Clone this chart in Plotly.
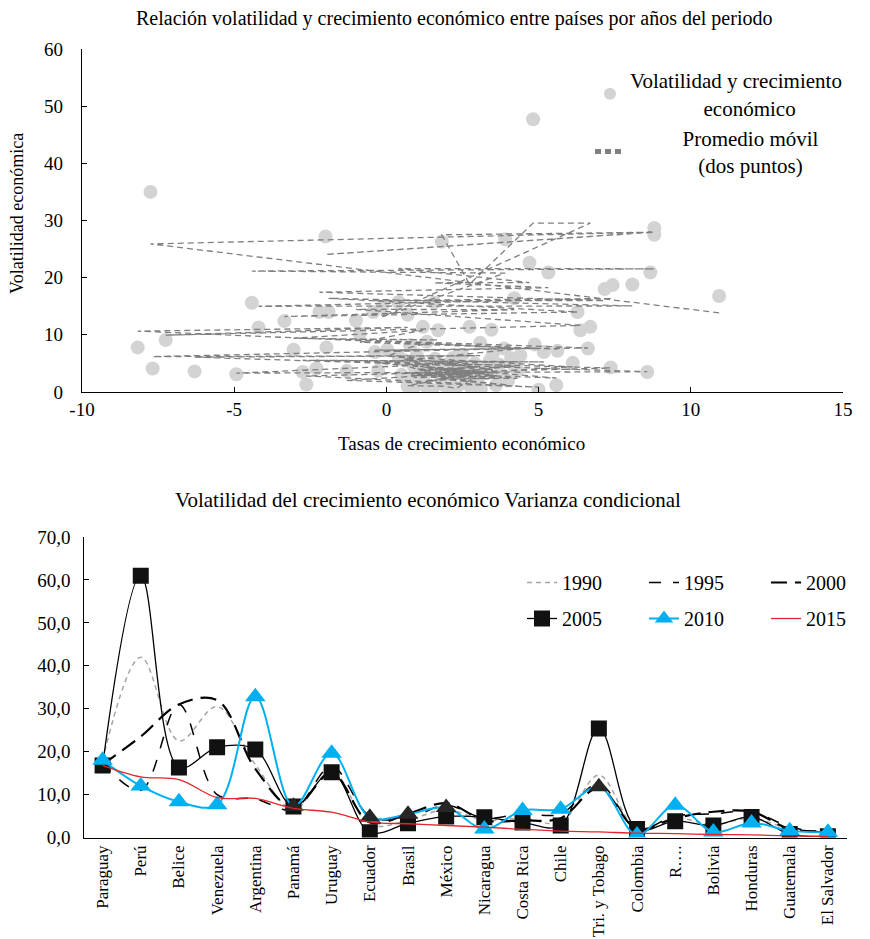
import plotly.graph_objects as go

# ---------------- data: scatter (growth rate, volatility) ----------------
growth = [3.45, 10.93, -7.75, 8.67, -2.0, 8.8, 1.82, 2.73, 4.82, 6.7,
          -0.13, 3.9, -4.42, 8.8, 0.4, 4.7, 1.57, 5.32, -2.2, 7.17,
          -0.43, 7.43, -4.2, 8.08, -1.9, 6.28, -3.35, 4.2, -1.0, 6.37,
          -7.25, 0.7, -8.17, 5.62, -0.87, 1.2, -3.05, 1.7, -1.97, 6.62,
          -0.38, 4.87, -7.68, 3.08, -6.3, 8.57, -4.93, 3.87, -2.75, 5.17,
          -2.3, 7.37, -2.63, 5.0, -1.3, 6.12, 0.03, 0.78, 1.33, 4.4,
          -0.27, 5.58, 0.6, 3.6, 0.9, 4.2, 1.1, 3.2, 0.8, 3.8,
          1.3, 2.9, 1.5, 4.0, 1.8, 3.4, 2.0, 2.8, 2.2, 0.4,
          2.4, 4.1, 2.6, 1.0, 3.0, 1.6, 3.1, 2.3, 1.9, 0.7,
          3.5, 1.4, 2.5, 0.5, 2.1, 3.3, 1.2, 2.7, 0.9, 3.7,
          1.7, 2.0, 4.3, 1.1, 2.6]
volatility = [10.9, 16.8, 35.0, 20.9, 27.2, 28.7, 26.3, 11.4, 47.7, 11.4,
              14.9, 26.7, 15.6, 27.5, 15.7, 22.6, 15.6, 20.9, 14.0, 18.0,
              14.0, 18.7, 11.3, 18.8, 14.0, 14.0, 12.4, 16.4, 12.5, 10.8,
              9.1, 13.5, 7.8, 7.2, 10.2, 11.4, 7.4, 10.8, 7.8, 7.6,
              7.0, 8.3, 4.1, 8.6, 3.6, 3.5, 3.1, 7.6, 3.5, 7.0,
              4.1, 4.3, 1.3, 0.4, 3.7, 5.1, 7.4, 8.2, 8.8, 6.4,
              3.7, 1.2, 5.5, 1.2, 4.5, 4.5, 3.0, 4.0, 2.0, 3.0,
              1.0, 5.0, 0.4, 2.0, 2.5, 5.5, 4.8, 0.6, 6.0, 6.2,
              3.5, 5.9, 1.5, 6.5, 2.2, 5.8, 0.5, 0.8, 1.2, 1.0,
              6.8, 4.0, 6.5, 3.0, 2.0, 3.3, 2.4, 4.2, 0.8, 4.8,
              3.6, 1.0, 3.8, 5.2, 2.8]

top_xticks = [-10, -5, 0, 5, 10, 15]
top_xlabels = ["-10", "-5", "0", "5", "10", "15"]
top_yticks = [0, 10, 20, 30, 40, 50, 60]

# two-point moving average (in data order)
ma_x = [growth[i] for i in range(1, len(growth))]
ma_y = [(volatility[i - 1] + volatility[i]) / 2 for i in range(1, len(volatility))]

# ---------------- data: conditional variance by country ----------------
countries = ["Paraguay", "Perú", "Belice", "Venezuela", "Argentina", "Panamá",
             "Uruguay", "Ecuador", "Brasil", "México", "Nicaragua", "Costa Rica",
             "Chile", "Tri. y Tobago", "Colombia", "R….", "Bolivia", "Honduras",
             "Guatemala", "El Salvador"]
v1990 = [18.0, 42.0, 22.5, 30.5, 17.0, 6.5, 15.5, 3.0, 4.0, 6.5, 4.0, 4.5, 3.5, 14.5, 2.0, 4.5, 3.0, 4.5, 2.0, 1.0]
v1995 = [17.5, 11.0, 31.0, 10.0, 9.0, 6.5, 16.5, 5.0, 4.5, 7.5, 4.5, 5.5, 5.5, 12.5, 2.0, 5.0, 5.5, 6.0, 2.5, 1.0]
v2000 = [17.0, 23.5, 31.0, 32.0, 16.0, 7.0, 15.0, 3.5, 5.5, 8.0, 4.0, 4.0, 4.5, 11.5, 2.0, 4.5, 6.0, 6.0, 2.0, 1.5]
v2005 = [16.8, 61.0, 16.3, 21.0, 20.5, 7.2, 15.2, 1.2, 3.3, 4.9, 4.7, 3.5, 2.8, 25.4, 2.0, 3.8, 2.8, 4.8, 0.8, 0.3]
v2010 = [18.0, 12.0, 8.3, 7.6, 32.8, 7.3, 19.6, 4.7, 5.4, 7.0, 2.0, 6.3, 6.6, 11.8, 0.6, 7.5, 1.3, 3.4, 1.6, 1.2]
v2015 = [16.8, 14.1, 13.5, 9.3, 9.1, 6.8, 5.9, 3.6, 3.2, 2.8, 2.4, 1.9, 1.5, 1.3, 1.0, 0.9, 0.7, 0.6, 0.4, 0.2]
dark_2010 = {"Panamá", "Ecuador", "Brasil", "México", "Tri. y Tobago"}

FONT = "Liberation Serif"
W, H = 870, 939
BLUE = "#00b0f0"
NB = "\u00a0"


def px(p):
    return p / W


def py(p):
    return 1 - p / H


fig = go.Figure()

# ---------------- top chart ----------------
fig.add_trace(go.Scatter(
    x=growth, y=volatility, mode="markers",
    name="Volatilidad y crecimiento<br>" + NB * 14 + "económico",
    marker=dict(color="#d3d3d3", size=14, line=dict(width=0)),
    xaxis="x", yaxis="y", legend="legend"))
fig.add_trace(go.Scatter(
    x=ma_x, y=ma_y, mode="lines",
    name=NB * 10 + "Promedio móvil<br>" + NB * 13 + "(dos puntos)",
    line=dict(color="#7f7f7f", width=1.3, dash="6px,4px"),
    xaxis="x", yaxis="y", legend="legend"))

# ---------------- bottom chart ----------------
series = [
    ("1990", v1990, dict(color="#a6a6a6", width=1.5, dash="5px,4px"), None, "legend2"),
    ("1995", v1995, dict(color="#000000", width=1.5, dash="12px,12px"), None, "legend2"),
    ("2000", v2000, dict(color="#000000", width=2.2, dash="16px,8px"), None, "legend2"),
    ("2005", v2005, dict(color="#000000", width=1.3), dict(symbol="square", size=16, color="#111111"), "legend3"),
    ("2010", v2010, dict(color=BLUE, width=2), dict(symbol="triangle-up", size=18,
                                                    color=[("#262626" if c in dark_2010 else BLUE) for c in countries]), "legend3"),
    ("2015", v2015, dict(color="#e3262b", width=1.3), None, "legend3"),
]
for name, vals, line, marker, leg in series:
    tr = dict(x=countries, y=vals, name=name, xaxis="x2", yaxis="y2", legend=leg,
              line=dict(shape="spline", smoothing=1.0, **line))
    if marker:
        tr["mode"] = "lines+markers"
        tr["marker"] = dict(line=dict(width=0), **marker)
    else:
        tr["mode"] = "lines"
    fig.add_trace(go.Scatter(**tr))

tick_font = dict(family=FONT, size=19, color="black")
cat_font = dict(family=FONT, size=17, color="black")
leg_font = dict(family=FONT, size=20, color="black")
leg_font_top = dict(family=FONT, size=21, color="black")

fig.update_layout(
    width=W, height=H,
    margin=dict(l=0, r=0, t=0, b=0, autoexpand=False),
    paper_bgcolor="white", plot_bgcolor="white",
    separators=",.",
    font=dict(family=FONT, size=19, color="black"),
    showlegend=True,
    xaxis=dict(domain=[px(82), px(843)], range=[-10, 15], tickvals=top_xticks, ticktext=top_xlabels,
               showgrid=False, zeroline=False, showline=True, linecolor="black", linewidth=1.3,
               ticks="inside", ticklen=5, tickcolor="black", tickfont=tick_font, anchor="y"),
    yaxis=dict(domain=[py(392), py(49)], range=[0, 60], tickvals=top_yticks,
               showgrid=False, zeroline=False, showline=True, linecolor="black", linewidth=1.3,
               ticks="inside", ticklen=5, tickcolor="black", tickfont=tick_font, anchor="x",
               ticklabelstandoff=14),
    xaxis2=dict(domain=[px(83.5), px(847)], type="category", range=[-0.5, len(countries) - 0.5],
                showgrid=False, zeroline=False, showline=True, linecolor="black", linewidth=1.3,
                ticks="", tickangle=-90, tickfont=cat_font, anchor="y2"),
    yaxis2=dict(domain=[py(837.5), py(537)], range=[0, 70], dtick=10, tickformat=".1f",
                showgrid=False, zeroline=False, showline=True, linecolor="black", linewidth=1.3,
                ticks="inside", ticklen=5, tickcolor="black", tickfont=tick_font, anchor="x2",
                ticklabelstandoff=8),
    legend=dict(x=px(590), y=py(60), xanchor="left", yanchor="top", bgcolor="rgba(0,0,0,0)",
                font=leg_font_top, itemsizing="constant", tracegroupgap=2),
    legend2=dict(x=px(522), y=py(563), xanchor="left", yanchor="top", orientation="h",
                 entrywidth=77, entrywidthmode="pixels", bgcolor="rgba(0,0,0,0)", font=leg_font),
    legend3=dict(x=px(522), y=py(599), xanchor="left", yanchor="top", orientation="h",
                 entrywidth=77, entrywidthmode="pixels", bgcolor="rgba(0,0,0,0)", font=leg_font),
    annotations=[
        dict(text="Relación volatilidad y crecimiento económico entre países por años del periodo",
             x=px(454), y=py(18), xref="paper", yref="paper", showarrow=False,
             xanchor="center", yanchor="middle", font=dict(family=FONT, size=20)),
        dict(text="Volatilidad económica", x=px(17), y=py(214), xref="paper", yref="paper",
             showarrow=False, textangle=-90, xanchor="center", yanchor="middle",
             font=dict(family=FONT, size=18)),
        dict(text="Tasas de crecimiento económico", x=px(462), y=py(443), xref="paper", yref="paper",
             showarrow=False, xanchor="center", yanchor="middle", font=dict(family=FONT, size=19)),
        dict(text="Volatilidad del crecimiento económico Varianza condicional",
             x=px(428), y=py(500), xref="paper", yref="paper", showarrow=False,
             xanchor="center", yanchor="middle", font=dict(family=FONT, size=21)),
    ],
)

fig.write_html("out.html", config={"displayModeBar": False},
               post_script="document.body.style.margin='0px';")
